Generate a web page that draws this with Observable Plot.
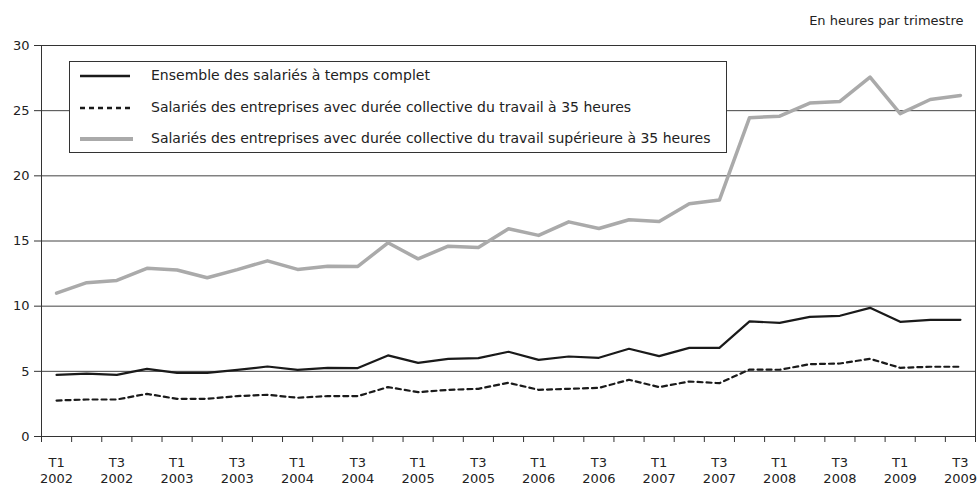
<!DOCTYPE html>
<html>
<head>
<meta charset="utf-8">
<script src="https://cdn.jsdelivr.net/npm/d3@7"></script>
<script src="https://cdn.jsdelivr.net/npm/@observablehq/plot@0.6"></script>
<style>
  html, body { margin: 0; padding: 0; background: #fff; }
  #wrap { position: relative; width: 980px; height: 489px; font-family: "DejaVu Sans", sans-serif; color: #222; }
  #legend { position: absolute; left: 69px; top: 61px; width: 656px; height: 90px; border: 1px solid #333; background: #fff; font-size: 14px; }
  #legend .row { position: absolute; left: 0; height: 20px; width: 100%; }
  #legend svg { position: absolute; left: 10px; top: 4px; }
  #legend span { position: absolute; left: 81px; top: 1px; white-space: nowrap; }
</style>
</head>
<body>
<div id="wrap"></div>
<script>
const quarters = [
  "T1 2002","T2 2002","T3 2002","T4 2002",
  "T1 2003","T2 2003","T3 2003","T4 2003",
  "T1 2004","T2 2004","T3 2004","T4 2004",
  "T1 2005","T2 2005","T3 2005","T4 2005",
  "T1 2006","T2 2006","T3 2006","T4 2006",
  "T1 2007","T2 2007","T3 2007","T4 2007",
  "T1 2008","T2 2008","T3 2008","T4 2008",
  "T1 2009","T2 2009","T3 2009"
];
const seriesNames = [
  "Ensemble des salariés à temps complet",
  "Salariés des entreprises avec durée collective du travail à 35 heures",
  "Salariés des entreprises avec durée collective du travail supérieure à 35 heures"
];
const ensemble = [4.73,4.83,4.73,5.19,4.88,4.88,5.11,5.37,5.11,5.26,5.25,6.22,5.65,5.96,6.01,6.5,5.88,6.14,6.04,6.73,6.17,6.8,6.8,8.83,8.72,9.18,9.26,9.87,8.8,8.95,8.95];
const a35 = [2.76,2.84,2.84,3.27,2.89,2.89,3.1,3.2,2.97,3.1,3.1,3.79,3.4,3.58,3.66,4.12,3.58,3.66,3.73,4.35,3.79,4.22,4.09,5.14,5.12,5.55,5.6,5.96,5.27,5.35,5.35];
const sup35 = [11.0,11.8,11.97,12.9,12.77,12.18,12.8,13.48,12.82,13.06,13.05,14.86,13.63,14.6,14.5,15.94,15.43,16.47,15.96,16.63,16.5,17.86,18.14,24.46,24.58,25.58,25.71,27.58,24.77,25.86,26.17];
const yTicks = [0,5,10,15,20,25,30];
const unitLabel = "En heures par trimestre";

const rows = quarters.map((q, i) => ({i, q, ensemble: ensemble[i], a35: a35[i], sup35: sup35[i]}));
const boundaries = d3.range(quarters.length + 1).map(k => k - 0.5);
const labelIdx = d3.range(0, quarters.length, 2);

const chart = Plot.plot({
  width: 980,
  height: 489,
  marginLeft: 41,
  marginRight: 5,
  marginTop: 45,
  marginBottom: 53,
  style: {fontFamily: "DejaVu Sans, sans-serif", fontSize: "12px", color: "#222", background: "#fff"},
  x: {domain: [-0.5, quarters.length - 0.5], axis: null, label: null},
  y: {domain: [0, 30], axis: null, label: null},
  marks: [
    Plot.gridY(yTicks.slice(1, -1), {stroke: "#444", strokeOpacity: 1, strokeWidth: 1}),
    Plot.frame({stroke: "#333", strokeWidth: 1}),
    Plot.axisY({ticks: yTicks, tickSize: 7, tickPadding: 5, fontSize: 13, label: null, stroke: "#333"}),
    Plot.axisX({ticks: boundaries, tickSize: 6, tickFormat: () => "", label: null, stroke: "#333"}),
    Plot.axisX({ticks: labelIdx, tickSize: 0, tickPadding: 18, fontSize: 13, lineHeight: 1.3,
      tickFormat: i => quarters[i].replace(" ", "\n"), label: null}),
    Plot.line(rows, {x: "i", y: "sup35", stroke: "#aaaaaa", strokeWidth: 3.5}),
    Plot.line(rows, {x: "i", y: "ensemble", stroke: "#1a1a1a", strokeWidth: 2.2}),
    Plot.line(rows, {x: "i", y: "a35", stroke: "#1a1a1a", strokeWidth: 2.2, strokeDasharray: "5,4"}),
    Plot.text([unitLabel], {frameAnchor: "top-right", dy: -30, dx: -12, textAnchor: "end", fontSize: 13, fill: "#222"})
  ]
});
const wrap = document.getElementById("wrap");
wrap.appendChild(chart);

const legend = document.createElement("div");
legend.id = "legend";
const styles = [
  {stroke: "#1a1a1a", width: 2.5, dash: ""},
  {stroke: "#1a1a1a", width: 2.5, dash: "5,4"},
  {stroke: "#aaaaaa", width: 4, dash: ""}
];
const rowTops = [4, 36, 67];
seriesNames.forEach((name, k) => {
  const row = document.createElement("div");
  row.className = "row";
  row.style.top = rowTops[k] + "px";
  const s = styles[k];
  row.innerHTML = `<svg width="54" height="12"><line x1="0" x2="${k===2?53:50}" y1="6" y2="6" stroke="${s.stroke}" stroke-width="${s.width}" ${s.dash ? `stroke-dasharray="${s.dash}"` : ""}/></svg><span>${name}</span>`;
  legend.appendChild(row);
});
wrap.appendChild(legend);
</script>
</body>
</html>
